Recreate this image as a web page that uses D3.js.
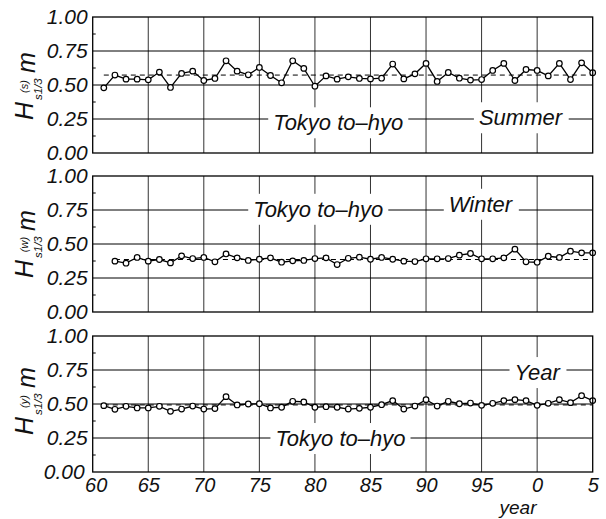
<!DOCTYPE html>
<html>
<head>
<meta charset="utf-8">
<script src="https://cdn.jsdelivr.net/npm/d3@7/dist/d3.min.js"></script>
<style>
    body { margin: 0; background: #fff; }
    svg { display: block; font-family: "Liberation Sans", Arial, sans-serif; font-style: italic; }
</style>
</head>
<body>
<div id="chart"></div>
<script>
// yearly significant wave height H1/3 (m), Tokyo to-hyo
const summerYears = d3.range(1961, 2006);
const summer = [
    0.479, 0.573, 0.543, 0.543, 0.538, 0.595, 0.482, 0.585, 0.602, 0.533,
    0.548, 0.678, 0.602, 0.575, 0.629, 0.570, 0.516, 0.678, 0.622, 0.491,
    0.567, 0.543, 0.560, 0.548, 0.545, 0.550, 0.654, 0.545, 0.582, 0.659,
    0.526, 0.592, 0.550, 0.536, 0.540, 0.607, 0.659, 0.533, 0.614, 0.607,
    0.567, 0.659, 0.540, 0.663, 0.590
];
const winterYears = d3.range(1962, 2006);
const winter = [
    0.374, 0.359, 0.401, 0.374, 0.386, 0.361, 0.413, 0.393, 0.401,
    0.369, 0.427, 0.398, 0.379, 0.388, 0.398, 0.366, 0.376, 0.379, 0.393,
    0.398, 0.349, 0.395, 0.403, 0.388, 0.401, 0.388, 0.374, 0.371, 0.391,
    0.391, 0.393, 0.418, 0.430, 0.391, 0.391, 0.398, 0.462, 0.369, 0.366,
    0.410, 0.401, 0.447, 0.435, 0.435
];
const annualYears = d3.range(1961, 2006);
const annual = [
    0.488, 0.461, 0.483, 0.471, 0.471, 0.483, 0.446, 0.463, 0.485, 0.463,
    0.466, 0.554, 0.493, 0.500, 0.502, 0.471, 0.476, 0.520, 0.515, 0.476,
    0.480, 0.476, 0.463, 0.468, 0.476, 0.495, 0.525, 0.463, 0.485, 0.532,
    0.485, 0.520, 0.502, 0.507, 0.490, 0.505, 0.525, 0.532, 0.525, 0.490,
    0.505, 0.532, 0.510, 0.561, 0.525
];
const means = [0.573, 0.386, 0.493];
const seasons = ["Summer", "Winter", "Year"];
const superscripts = ["(s)", "(w)", "(y)"];
const stationName = "Tokyo to\u2013hyo";

const xTicks = [1960, 1965, 1970, 1975, 1980, 1985, 1990, 1995, 2000, 2005];
const yTicks = [0, 0.25, 0.5, 0.75, 1];
const yMinor = [0.125, 0.375, 0.625, 0.875];

(() => {
    const width = 606, height = 519;
    const left = 92.7, right = 592.7, panelH = 136;
    const panelTop = [17, 176, 336];
    const titleBottom = [120, 278, 435];
    // label anchors in data units: [year centre, baseline value]
    const stationPos = [[1982.1, 0.167], [1980.3, 0.700], [1982.3, 0.191]];
    const seasonPos = [[1998.5, 0.204], [1994.9, 0.737], [2000.0, 0.676]];

    const panels = [
        { years: summerYears, values: summer },
        { years: winterYears, values: winter },
        { years: annualYears, values: annual }
    ];

    const x = d3.scaleLinear().domain([1960, 2005]).range([left, right]);

    const svg = d3.select("#chart")
        .append("svg")
        .attr("width", width)
        .attr("height", height);

    panels.forEach((p, i) => {
        const top = panelTop[i];
        const y = d3.scaleLinear().domain([0, 1]).range([top + panelH, top]);
        const g = svg.append("g");

        // grid
        g.selectAll(".vgrid")
            .data(xTicks.slice(1, -1))
            .join("line")
            .attr("x1", d => x(d)).attr("x2", d => x(d))
            .attr("y1", y(0)).attr("y2", y(1))
            .attr("stroke", "#333").attr("stroke-width", 1);

        g.selectAll(".hgrid")
            .data(yTicks.slice(1, -1))
            .join("line")
            .attr("x1", left).attr("x2", right)
            .attr("y1", d => y(d)).attr("y2", d => y(d))
            .attr("stroke", "#000").attr("stroke-width", 1);

        g.selectAll(".minor")
            .data(yMinor)
            .join("line")
            .attr("x1", left).attr("x2", left + 3)
            .attr("y1", d => y(d)).attr("y2", d => y(d))
            .attr("stroke", "#000").attr("stroke-width", 1);

        // labels with white boxes that cut the grid
        const labels = [
            { text: stationName, pos: stationPos[i] },
            { text: seasons[i], pos: seasonPos[i] }
        ];
        labels.forEach(l => {
            const box = g.append("rect").attr("fill", "#fff");
            const t = g.append("text")
                .attr("x", x(l.pos[0]))
                .attr("y", y(l.pos[1]))
                .attr("text-anchor", "middle")
                .style("font-size", "22px")
                .attr("fill", "#111")
                .text(l.text);
            const bb = t.node().getBBox();
            box.attr("x", bb.x - 5).attr("y", bb.y - 3)
                .attr("width", bb.width + 10).attr("height", bb.height + 6);
        });

        // mean
        g.append("line")
            .attr("x1", x(p.years[0])).attr("x2", right)
            .attr("y1", y(means[i])).attr("y2", y(means[i]))
            .attr("stroke", "#000").attr("stroke-width", 1)
            .attr("stroke-dasharray", "5,4");

        const pts = p.years.map((yr, k) => [yr, p.values[k]]);

        g.append("path")
            .datum(pts)
            .attr("fill", "none")
            .attr("stroke", "#000")
            .attr("stroke-width", 1.3)
            .attr("d", d3.line().x(d => x(d[0])).y(d => y(d[1])));

        g.selectAll(".pt")
            .data(pts)
            .join("circle")
            .attr("cx", d => x(d[0]))
            .attr("cy", d => y(d[1]))
            .attr("r", 2.8)
            .attr("fill", "#fff")
            .attr("stroke", "#000")
            .attr("stroke-width", 1.2);

        g.append("rect")
            .attr("x", left).attr("y", top)
            .attr("width", right - left).attr("height", panelH)
            .attr("fill", "none")
            .attr("stroke", "#000").attr("stroke-width", 1.3);

        // y tick labels
        const yAxis = g.append("g")
            .attr("transform", `translate(${left},0)`)
            .call(d3.axisLeft(y).tickValues(yTicks).tickSize(0).tickPadding(5).tickFormat(d3.format(".2f")))
            .call(a => a.select(".domain").remove());
        yAxis.selectAll("text")
            .style("font-family", "Liberation Sans, Arial, sans-serif")
            .style("font-style", "italic")
            .style("font-size", "21px")
            .attr("fill", "#111");
        // keep the lowest label clear of the "60" below it
        if (i === panels.length - 1) {
            yAxis.selectAll("text").filter(d => d === 0).attr("x", -8);
        }

        // y title: H s1/3 (sup) m
        const tg = svg.append("g")
            .attr("transform", `translate(33,${titleBottom[i]}) rotate(-90)`)
            .attr("fill", "#111");
        tg.append("text").attr("x", 0).attr("y", 0).style("font-size", "25px").text("H");
        tg.append("text").attr("x", 20).attr("y", 9).style("font-size", "11.5px").text("s1/3");
        tg.append("text").attr("x", 33.5).attr("y", -5).attr("text-anchor", "middle")
            .style("font-size", "11px").text(superscripts[i]);
        tg.append("text").attr("x", 47).attr("y", 2).style("font-size", "25px").text("m");
    });

    // x axis labels under the last panel
    const bottom = panelTop[2] + panelH;
    svg.append("g")
        .attr("transform", `translate(0,${bottom})`)
        .call(d3.axisBottom(x).tickValues(xTicks).tickSize(0).tickPadding(6).tickFormat(d => d % 100))
        .call(a => a.select(".domain").remove())
        .selectAll("text")
        .style("font-family", "Liberation Sans, Arial, sans-serif")
        .style("font-style", "italic")
        .style("font-size", "20px")
        .attr("fill", "#111")
        .attr("dx", d => d === 1960 ? 3 : 0);

    svg.append("text")
        .attr("x", 518)
        .attr("y", 514)
        .attr("text-anchor", "middle")
        .style("font-size", "19px")
        .attr("fill", "#111")
        .text("year");
})();
</script>
</body>
</html>
